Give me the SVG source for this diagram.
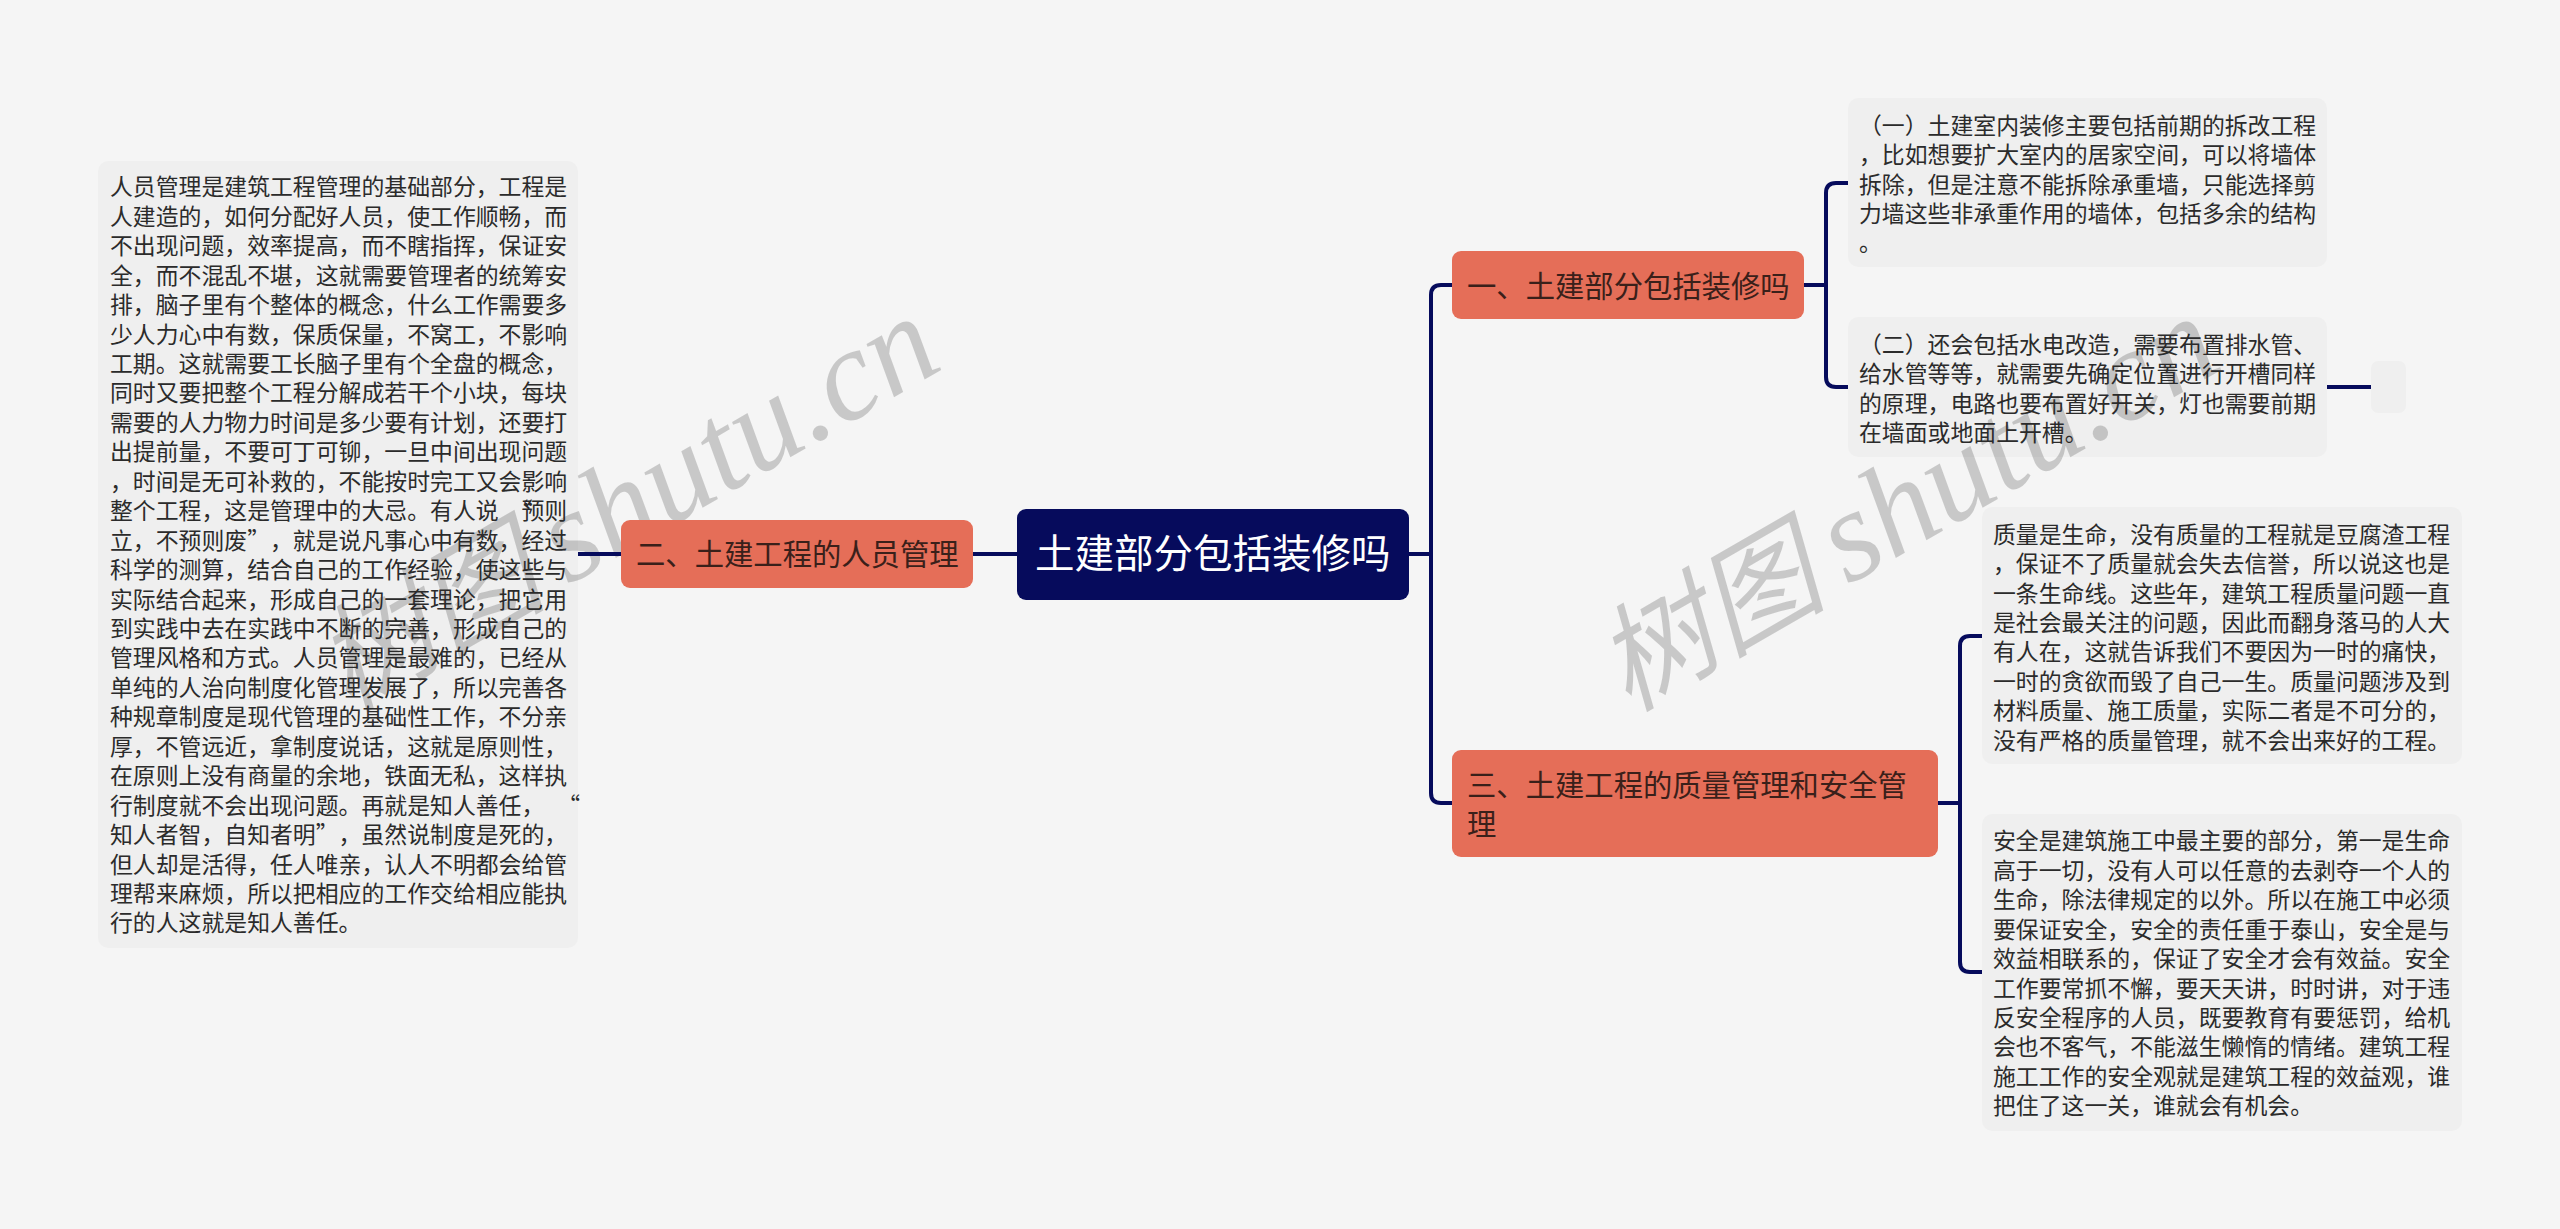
<svg xmlns="http://www.w3.org/2000/svg" width="2560" height="1229" viewBox="0 0 2560 1229">
<style>
text{font-family:"Noto Sans CJK SC","Noto Sans",sans-serif}
.leaf rect{fill:#000;fill-opacity:.025}
.leaf text{font-size:22.86px;fill:#2b2b2b}
.topic rect{fill:#e56e58}
.topic text{font-size:29.33px;fill:#3a201a}
.wm{font-family:"Liberation Serif","Noto Sans CJK SC",serif;font-style:italic;font-size:130px;fill:#000;fill-opacity:.18}
.wm .cjk{font-size:116px}
#connectors path{fill:none;stroke:#060b5c;stroke-width:4}
</style>
<rect width="2560" height="1229" fill="#f5f5f5"/>
<g id="watermark">
<text class="wm" transform="translate(348 712.5) rotate(-30)"><tspan class="cjk">树图 </tspan><tspan dx="-7">shutu.cn</tspan></text>
<text class="wm" transform="translate(1628 712.5) rotate(-30)"><tspan class="cjk">树图 </tspan><tspan dx="-7">shutu.cn</tspan></text>
</g>
<g id="connectors">
<path d="M578 554H621"/>
<path d="M973 554H1017"/>
<path d="M1409 554H1431"/>
<path d="M1452 285H1441Q1431 285 1431 295V793Q1431 803 1441 803H1452"/>
<path d="M1804 285H1826"/>
<path d="M1848 183H1836Q1826 183 1826 193V377Q1826 387 1836 387H1848"/>
<path d="M1938 803H1960"/>
<path d="M1982 636H1970Q1960 636 1960 646V962Q1960 972 1970 972H1982"/>
<path d="M2327 387H2371"/>
</g>
<g id="root">
<rect x="1017" y="509" width="392" height="91" rx="9" fill="#060b5c"/>
<text x="1035" y="568" font-size="39.5" fill="#fff">土建部分包括装修吗</text>
</g>
<g id="topic1" class="topic">
<rect x="1452" y="251" width="352" height="68" rx="9"/>
<text x="1467" y="297">一、土建部分包括装修吗</text>
</g>
<g id="topic2" class="topic">
<rect x="621" y="520" width="352" height="68" rx="9"/>
<text x="636" y="565">二、土建工程的人员管理</text>
</g>
<g id="topic3" class="topic">
<rect x="1452" y="750" width="486" height="107" rx="9"/>
<text y="796"><tspan x="1467">三、土建工程的质量管理和安全管</tspan><tspan x="1467" dy="39">理</tspan></text>
</g>
<g id="leaf-people" class="leaf">
<rect x="98" y="161" width="480" height="787" rx="10"/>
<text y="195.4"><tspan x="110">人员管理是建筑工程管理的基础部分，工程是</tspan><tspan x="110" dy="29.44">人建造的，如何分配好人员，使工作顺畅，而</tspan><tspan x="110" dy="29.44">不出现问题，效率提高，而不瞎指挥，保证安</tspan><tspan x="110" dy="29.44">全，而不混乱不堪，这就需要管理者的统筹安</tspan><tspan x="110" dy="29.44">排，脑子里有个整体的概念，什么工作需要多</tspan><tspan x="110" dy="29.44">少人力心中有数，保质保量，不窝工，不影响</tspan><tspan x="110" dy="29.44">工期。这就需要工长脑子里有个全盘的概念，</tspan><tspan x="110" dy="29.44">同时又要把整个工程分解成若干个小块，每块</tspan><tspan x="110" dy="29.44">需要的人力物力时间是多少要有计划，还要打</tspan><tspan x="110" dy="29.44">出提前量，不要可丁可铆，一旦中间出现问题</tspan><tspan x="110" dy="29.44">，时间是无可补救的，不能按时完工又会影响</tspan><tspan x="110" dy="29.44">整个工程，这是管理中的大忌。有人说</tspan><tspan x="510 521.5">“预则</tspan><tspan x="110" dy="29.44">立，不预则废</tspan><tspan x="247.2">”</tspan><tspan x="270">，就是说凡事心中有数，经过</tspan><tspan x="110" dy="29.44">科学的测算，结合自己的工作经验，使这些与</tspan><tspan x="110" dy="29.44">实际结合起来，形成自己的一套理论，把它用</tspan><tspan x="110" dy="29.44">到实践中去在实践中不断的完善，形成自己的</tspan><tspan x="110" dy="29.44">管理风格和方式。人员管理是最难的，已经从</tspan><tspan x="110" dy="29.44">单纯的人治向制度化管理发展了，所以完善各</tspan><tspan x="110" dy="29.44">种规章制度是现代管理的基础性工作，不分亲</tspan><tspan x="110" dy="29.44">厚，不管远近，拿制度说话，这就是原则性，</tspan><tspan x="110" dy="29.44">在原则上没有商量的余地，铁面无私，这样执</tspan><tspan x="110" dy="29.44">行制度就不会出现问题。再就是知人善任，</tspan><tspan x="557.3">“</tspan><tspan x="110" dy="29.44">知人者智，自知者明</tspan><tspan x="315.7">”</tspan><tspan x="338.6">，虽然说制度是死的，</tspan><tspan x="110" dy="29.44">但人却是活得，任人唯亲，认人不明都会给管</tspan><tspan x="110" dy="29.44">理帮来麻烦，所以把相应的工作交给相应能执</tspan><tspan x="110" dy="29.44">行的人这就是知人善任。</tspan></text>
</g>
<g id="leaf-1" class="leaf">
<rect x="1848" y="98" width="479" height="169" rx="10"/>
<text y="133.7"><tspan x="1859">（一）土建室内装修主要包括前期的拆改工程</tspan><tspan x="1859" dy="29.44">，比如想要扩大室内的居家空间，可以将墙体</tspan><tspan x="1859" dy="29.44">拆除，但是注意不能拆除承重墙，只能选择剪</tspan><tspan x="1859" dy="29.44">力墙这些非承重作用的墙体，包括多余的结构</tspan><tspan x="1859" dy="29.44">。</tspan></text>
</g>
<g id="leaf-2" class="leaf">
<rect x="1848" y="317" width="479" height="140" rx="10"/>
<text y="352.7"><tspan x="1859">（二）还会包括水电改造，需要布置排水管、</tspan><tspan x="1859" dy="29.44">给水管等等，就需要先确定位置进行开槽同样</tspan><tspan x="1859" dy="29.44">的原理，电路也要布置好开关，灯也需要前期</tspan><tspan x="1859" dy="29.44">在墙面或地面上开槽。</tspan></text>
</g>
<g id="leaf-empty" class="leaf">
<rect x="2371" y="361" width="35" height="52" rx="7"/>
</g>
<g id="leaf-3" class="leaf">
<rect x="1982" y="507" width="480" height="257" rx="10"/>
<text y="542.7"><tspan x="1993">质量是生命，没有质量的工程就是豆腐渣工程</tspan><tspan x="1993" dy="29.44">，保证不了质量就会失去信誉，所以说这也是</tspan><tspan x="1993" dy="29.44">一条生命线。这些年，建筑工程质量问题一直</tspan><tspan x="1993" dy="29.44">是社会最关注的问题，因此而翻身落马的人大</tspan><tspan x="1993" dy="29.44">有人在，这就告诉我们不要因为一时的痛快，</tspan><tspan x="1993" dy="29.44">一时的贪欲而毁了自己一生。质量问题涉及到</tspan><tspan x="1993" dy="29.44">材料质量、施工质量，实际二者是不可分的，</tspan><tspan x="1993" dy="29.44">没有严格的质量管理，就不会出来好的工程。</tspan></text>
</g>
<g id="leaf-4" class="leaf">
<rect x="1982" y="814" width="480" height="317" rx="10"/>
<text y="849.4"><tspan x="1993">安全是建筑施工中最主要的部分，第一是生命</tspan><tspan x="1993" dy="29.44">高于一切，没有人可以任意的去剥夺一个人的</tspan><tspan x="1993" dy="29.44">生命，除法律规定的以外。所以在施工中必须</tspan><tspan x="1993" dy="29.44">要保证安全，安全的责任重于泰山，安全是与</tspan><tspan x="1993" dy="29.44">效益相联系的，保证了安全才会有效益。安全</tspan><tspan x="1993" dy="29.44">工作要常抓不懈，要天天讲，时时讲，对于违</tspan><tspan x="1993" dy="29.44">反安全程序的人员，既要教育有要惩罚，给机</tspan><tspan x="1993" dy="29.44">会也不客气，不能滋生懒惰的情绪。建筑工程</tspan><tspan x="1993" dy="29.44">施工工作的安全观就是建筑工程的效益观，谁</tspan><tspan x="1993" dy="29.44">把住了这一关，谁就会有机会。</tspan></text>
</g>
</svg>
